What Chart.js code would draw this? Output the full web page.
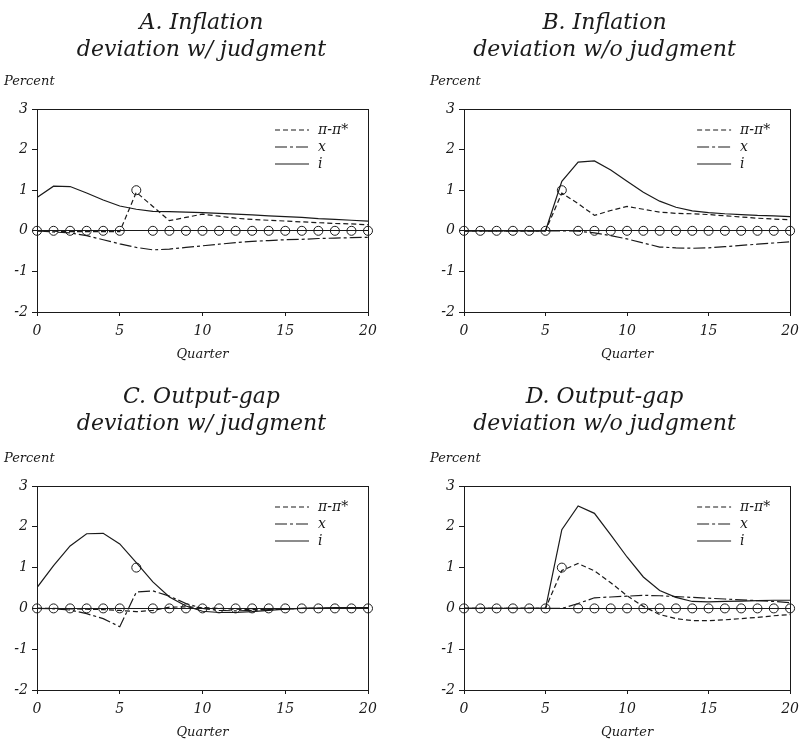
<!DOCTYPE html>
<html>
<head>
<meta charset="utf-8">
<title>Policy responses to judgment</title>
<script src="https://cdn.jsdelivr.net/npm/chart.js@4.4.1/dist/chart.umd.min.js"></script>
<style>
  body { margin: 0; background: #fff; }
  #page { position: relative; width: 806px; height: 741px; }
  .panel { position: absolute; }
</style>
</head>
<body>
<div id="page">
  <div class="panel" style="left:0;top:0;width:403px;height:370px"><canvas id="chartA"></canvas></div>
  <div class="panel" style="left:403px;top:0;width:403px;height:370px"><canvas id="chartB"></canvas></div>
  <div class="panel" style="left:0;top:377px;width:403px;height:364px"><canvas id="chartC"></canvas></div>
  <div class="panel" style="left:403px;top:377px;width:403px;height:364px"><canvas id="chartD"></canvas></div>
</div>
<script>
// quarters 0..20 and the judgment (circles) path shared by all panels
const quarters = [0, 1, 2, 3, 4, 5, 6, 7, 8, 9, 10, 11, 12, 13, 14, 15, 16, 17, 18, 19, 20];
const judgment = [0, 0, 0, 0, 0, 0, 1, 0, 0, 0, 0, 0, 0, 0, 0, 0, 0, 0, 0, 0, 0];
const xTicks = [0, 5, 10, 15, 20];
const yTicks = [-2, -1, 0, 1, 2, 3];
const seriesNames = ['π-π*', 'x', 'i'];

// A. Inflation deviation w/ judgment
const inflA = [0, -0.01, -0.02, -0.02, -0.02, -0.02, 0.95, 0.6, 0.25, 0.33, 0.41, 0.36, 0.31, 0.28, 0.26, 0.24, 0.22, 0.2, 0.18, 0.17, 0.15];
const gapA = [0, -0.03, -0.05, -0.12, -0.22, -0.32, -0.41, -0.47, -0.45, -0.41, -0.37, -0.33, -0.29, -0.26, -0.24, -0.22, -0.21, -0.19, -0.18, -0.17, -0.16];
const rateA = [0.82, 1.1, 1.09, 0.93, 0.76, 0.61, 0.53, 0.48, 0.47, 0.46, 0.45, 0.43, 0.41, 0.39, 0.37, 0.35, 0.33, 0.3, 0.28, 0.26, 0.24];

// B. Inflation deviation w/o judgment
const inflB = [0, 0, 0, 0, 0, 0, 0.93, 0.67, 0.38, 0.5, 0.6, 0.53, 0.46, 0.43, 0.42, 0.4, 0.37, 0.34, 0.31, 0.29, 0.27];
const gapB = [0, 0, 0, 0, 0, 0, 0, -0.01, -0.05, -0.12, -0.2, -0.3, -0.4, -0.42, -0.43, -0.42, -0.39, -0.36, -0.33, -0.3, -0.27];
const rateB = [0, 0, 0, 0, 0, 0, 1.22, 1.69, 1.72, 1.5, 1.22, 0.95, 0.73, 0.58, 0.49, 0.45, 0.42, 0.4, 0.38, 0.37, 0.35];

// C. Output-gap deviation w/ judgment
const inflC = [0, 0, -0.01, -0.02, -0.03, -0.05, -0.08, -0.05, 0.03, 0.04, 0.02, 0, -0.02, -0.03, -0.02, -0.01, 0, 0, 0, 0, 0];
const gapC = [0, -0.01, -0.04, -0.13, -0.25, -0.45, 0.4, 0.43, 0.3, 0.12, 0, -0.05, -0.06, -0.05, -0.03, -0.01, 0, 0, 0, 0, 0];
const rateC = [0.51, 1.05, 1.53, 1.83, 1.84, 1.58, 1.12, 0.65, 0.28, 0.06, -0.07, -0.1, -0.1, -0.08, -0.05, -0.02, 0, 0.01, 0.02, 0.02, 0.02];

// D. Output-gap deviation w/o judgment
const inflD = [0, 0, 0, 0, 0, 0, 0.93, 1.1, 0.92, 0.63, 0.31, 0.05, -0.15, -0.25, -0.3, -0.3, -0.28, -0.25, -0.22, -0.18, -0.15];
const gapD = [0, 0, 0, 0, 0, 0, 0, 0.12, 0.26, 0.28, 0.3, 0.32, 0.31, 0.29, 0.27, 0.25, 0.23, 0.21, 0.19, 0.17, 0.14];
const rateD = [0, 0, 0, 0, 0, 0, 1.93, 2.51, 2.33, 1.8, 1.26, 0.77, 0.44, 0.27, 0.17, 0.16, 0.17, 0.18, 0.19, 0.2, 0.2];

const INK = '#1a1a1a';
const SERIF = '"DejaVu Serif", "Liberation Serif", serif';

function toPoints(values) {
  return quarters.map((q, k) => ({x: q, y: values[k]}));
}

// frame, two-line title, "Percent" unit label and the in-plot legend
const panelDecor = {
  id: 'panelDecor',
  afterDraw(chart, args, opts) {
    const {ctx, chartArea: a} = chart;
    ctx.save();
    ctx.strokeStyle = INK;
    ctx.lineWidth = 1;
    ctx.strokeRect(Math.round(a.left) + 0.5, Math.round(a.top) + 0.5, Math.round(a.right - a.left), Math.round(a.bottom - a.top));

    ctx.fillStyle = INK;
    ctx.textAlign = 'center';
    ctx.textBaseline = 'alphabetic';
    ctx.font = 'italic 22px ' + SERIF;
    opts.title.forEach((line, k) => ctx.fillText(line, chart.width / 2, opts.titleY + k * 27));

    ctx.textAlign = 'left';
    ctx.textBaseline = 'middle';
    ctx.font = 'italic 13px ' + SERIF;
    ctx.fillText('Percent', opts.unitX, a.top - 27);

    // legend, top-right inside the plot
    ctx.font = 'italic 14px ' + SERIF;
    chart.data.datasets.forEach((ds, k) => {
      if (!ds.inLegend) return;
      const y = a.top + 21 + k * 17;
      ctx.beginPath();
      ctx.setLineDash(ds.borderDash || []);
      ctx.lineWidth = ds.borderWidth;
      ctx.moveTo(a.right - 93, y);
      ctx.lineTo(a.right - 59, y);
      ctx.stroke();
      ctx.setLineDash([]);
      ctx.fillText(ds.label, a.right - 50, y);
    });
    ctx.restore();
  }
};

function makePanel(id, title, infl, gap, rate, isRight, isBottom) {
  const lineStyle = {borderColor: INK, borderWidth: 1.2, pointRadius: 0, tension: 0, fill: false, inLegend: true};
  new Chart(document.getElementById(id), {
    type: 'line',
    data: {
      datasets: [
        Object.assign({label: seriesNames[0], data: toPoints(infl), borderDash: [5, 3]}, lineStyle),
        Object.assign({label: seriesNames[1], data: toPoints(gap), borderDash: [12, 3, 3, 3]}, lineStyle),
        Object.assign({label: seriesNames[2], data: toPoints(rate)}, lineStyle),
        {
          label: 'judgment',
          data: toPoints(judgment),
          showLine: false,
          pointRadius: 4.5,
          pointBorderWidth: 1,
          pointBorderColor: INK,
          pointBackgroundColor: 'rgba(0,0,0,0)',
          clip: false
        }
      ]
    },
    options: {
      responsive: true,
      maintainAspectRatio: false,
      animation: false,
      events: [],
      layout: {
        padding: {left: isRight ? 31 : 7, right: isRight ? 10 : 35, top: 109, bottom: isBottom ? 1 : 8}
      },
      plugins: {
        legend: {display: false},
        tooltip: {enabled: false},
        panelDecor: {title: title, titleY: isBottom ? 26 : 29, unitX: isRight ? 27 : 4}
      },
      scales: {
        x: {
          type: 'linear',
          min: xTicks[0],
          max: xTicks[xTicks.length - 1],
          afterFit(s) { s.height = 50; },
          afterBuildTicks(s) { s.ticks = xTicks.map(v => ({value: v})); },
          ticks: {color: INK, padding: 7, maxRotation: 0, font: {family: SERIF, size: 14, style: 'italic'}},
          grid: {drawOnChartArea: false, color: INK, tickLength: 4},
          border: {color: INK, width: 1},
          title: {display: true, text: 'Quarter', color: INK, padding: {top: 0, bottom: 0}, font: {family: SERIF, size: 13, style: 'italic'}}
        },
        y: {
          type: 'linear',
          min: yTicks[0],
          max: yTicks[yTicks.length - 1],
          afterFit(s) { s.width = 30; },
          afterBuildTicks(s) { s.ticks = yTicks.map(v => ({value: v})); },
          ticks: {color: INK, padding: 4, font: {family: SERIF, size: 14, style: 'italic'}},
          grid: {
            color: c => (c.tick && c.tick.value === 0 ? INK : 'rgba(0,0,0,0)'),
            tickColor: INK,
            tickLength: 5,
            lineWidth: 1
          },
          border: {color: INK, width: 1}
        }
      }
    },
    plugins: [panelDecor]
  });
}

makePanel('chartA', ['A. Inflation', 'deviation w/ judgment'], inflA, gapA, rateA, false, false);
makePanel('chartB', ['B. Inflation', 'deviation w/o judgment'], inflB, gapB, rateB, true, false);
makePanel('chartC', ['C. Output-gap', 'deviation w/ judgment'], inflC, gapC, rateC, false, true);
makePanel('chartD', ['D. Output-gap', 'deviation w/o judgment'], inflD, gapD, rateD, true, true);
</script>
</body>
</html>
